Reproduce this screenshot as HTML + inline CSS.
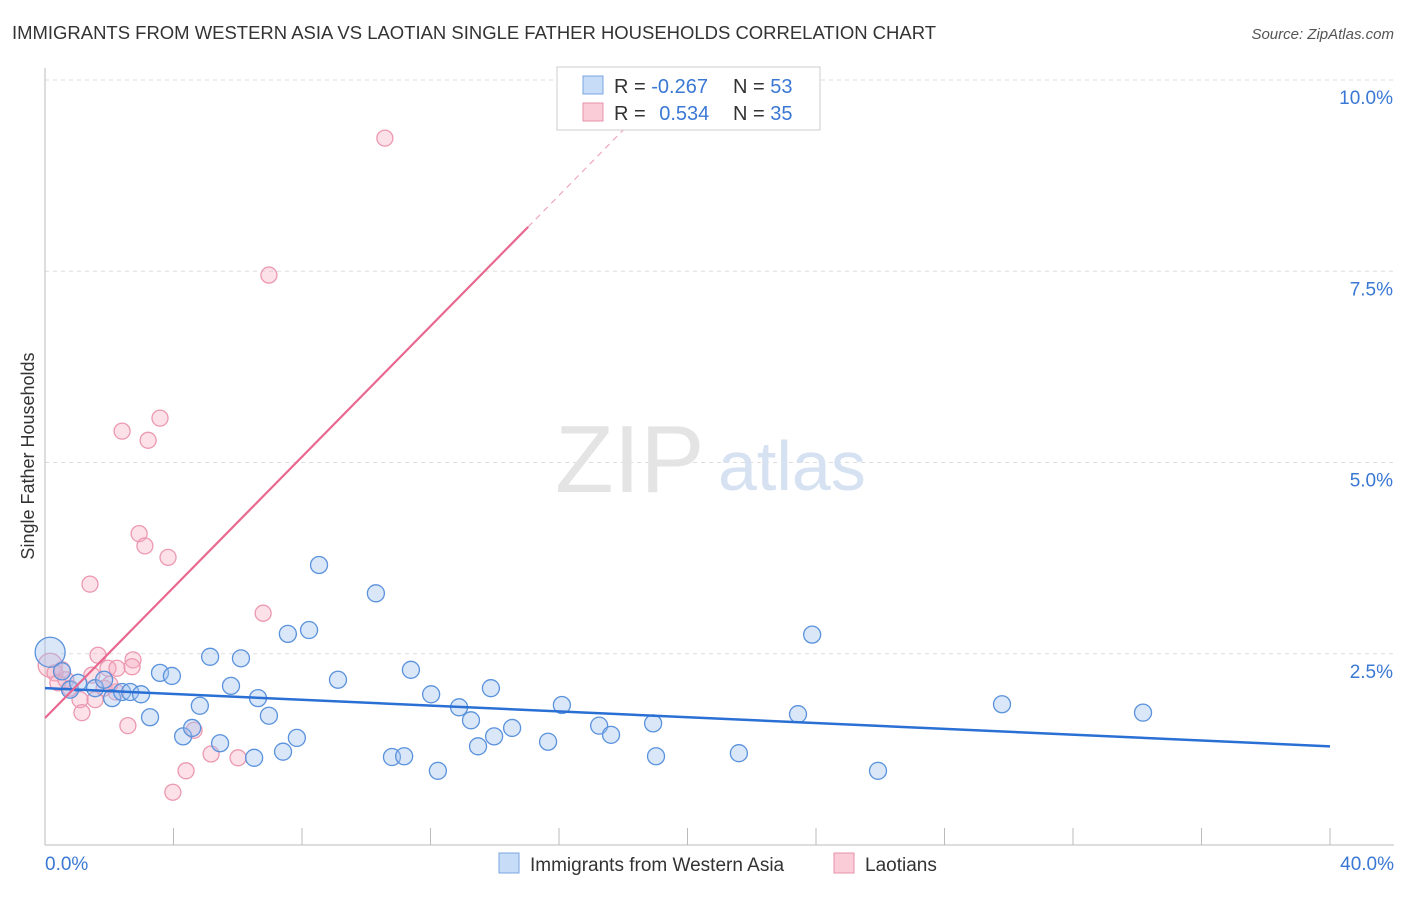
<!DOCTYPE html>
<html><head><meta charset="utf-8"><style>
body{margin:0;background:#fff;font-family:"Liberation Sans",sans-serif}
svg text{font-family:"Liberation Sans",sans-serif}
</style></head><body>
<svg width="1406" height="892" xmlns="http://www.w3.org/2000/svg">
<text x="12" y="39" font-size="18" fill="#333" textLength="924" lengthAdjust="spacingAndGlyphs">IMMIGRANTS FROM WESTERN ASIA VS LAOTIAN SINGLE FATHER HOUSEHOLDS CORRELATION CHART</text>
<text x="1394" y="39" font-size="15" fill="#555" font-style="italic" text-anchor="end">Source: ZipAtlas.com</text>
<g id="grid"></g>
<g id="axes"></g>
<text x="555" y="492" font-size="96" fill="#e4e4e4" font-family="Liberation Serif">ZIP</text>
<text x="718" y="490" font-size="70" fill="#d6e2f2">atlas</text>
<text transform="translate(34,456) rotate(-90)" font-size="18" fill="#333" text-anchor="middle">Single Father Households</text>
<g id="pts"></g>
<g id="trend"></g>
<g>
<rect x="557" y="67" width="263" height="63" fill="#fff" stroke="#ccc"/>
<rect x="583" y="76" width="20" height="18" fill="#c6dcf7" stroke="#7aa6e0"/>
<rect x="583" y="103" width="20" height="18" fill="#f9ccd8" stroke="#e890aa"/>
<text x="614" y="93" font-size="20" fill="#333">R = <tspan fill="#3a78d4">-0.267</tspan></text>
<text x="733" y="93" font-size="20" fill="#333">N = <tspan fill="#3a78d4">53</tspan></text>
<text x="614" y="120" font-size="20" fill="#333">R = <tspan fill="#3a78d4" dx="8">0.534</tspan></text>
<text x="733" y="120" font-size="20" fill="#333">N = <tspan fill="#3a78d4">35</tspan></text>
</g>
<g>
<rect x="499" y="853" width="20" height="20" fill="#c6dcf7" stroke="#7aa6e0"/>
<text x="530" y="871" font-size="19" fill="#333">Immigrants from Western Asia</text>
<rect x="834" y="853" width="20" height="20" fill="#f9ccd8" stroke="#e890aa"/>
<text x="865" y="871" font-size="19" fill="#333">Laotians</text>
</g>
<text x="45" y="870" font-size="19" fill="#3a78d4">0.0%</text>
<text x="1394" y="870" font-size="19" fill="#3a78d4" text-anchor="end">40.0%</text>
</svg>
<script>
const yTicks=[2.5,5.0,7.5,10.0];
const yTickLabels=["2.5%","5.0%","7.5%","10.0%"];
const blueX=[0.16,0.53,0.78,1.03,1.56,1.84,2.09,2.40,2.65,2.99,3.27,3.58,3.95,4.30,4.58,4.82,5.14,5.45,5.79,6.10,6.51,6.63,6.97,7.41,7.56,7.84,8.22,8.53,9.12,10.30,10.80,11.18,11.39,12.02,12.23,12.89,13.26,13.48,13.88,13.98,14.54,15.66,16.09,17.25,17.62,18.93,19.02,21.60,23.44,23.88,25.93,29.79,34.18];
const blueY=[2.52,2.27,2.03,2.12,2.05,2.16,1.92,2.00,2.00,1.97,1.67,2.25,2.21,1.42,1.53,1.82,2.46,1.33,2.08,2.44,1.14,1.92,1.69,1.22,2.76,1.40,2.81,3.66,2.16,3.29,1.15,1.16,2.29,1.97,0.97,1.80,1.63,1.29,2.05,1.42,1.53,1.35,1.83,1.56,1.44,1.59,1.16,1.20,1.71,2.75,0.97,1.84,1.73];
const pinkX=[0.16,0.31,0.53,0.78,1.09,1.15,1.40,1.56,1.65,1.84,1.96,2.21,2.24,2.40,2.58,2.74,2.93,3.11,3.21,3.58,3.83,3.98,4.39,4.64,5.17,6.01,6.79,6.97,10.58,0.40,1.46,0.65,2.02,2.71];
const pinkY=[2.35,2.25,2.29,2.05,1.90,1.73,3.41,1.90,2.48,2.05,2.31,2.00,2.31,5.41,1.56,2.42,4.07,3.91,5.29,5.58,3.76,0.69,0.97,1.50,1.19,1.14,3.03,7.45,9.24,2.12,2.22,2.16,2.10,2.33];
const blueTrend=[2.05,1.29];
const pinkTrend=[1.66,8.08,9.39];
const pinkTrendX=[0,15.04,18.1];
const NS="http://www.w3.org/2000/svg";
const X=v=>45+v/40*1285, Y=v=>845-v*76.5;
function mk(t,a,p){const e=document.createElementNS(NS,t);for(const k in a)e.setAttribute(k,a[k]);p.appendChild(e);return e;}
const grid=document.getElementById('grid'),axes=document.getElementById('axes');
yTicks.forEach((t,i)=>{
 const l=mk('line',{x1:45,x2:1394,y1:Y(t),y2:Y(t),stroke:'#ddd','stroke-dasharray':'4,4'},grid);
 
 
 const tx=mk('text',{x:1393,y:Y(t)+24,'font-size':19,fill:'#3a78d4','text-anchor':'end'},axes);
 tx.textContent=yTickLabels[i];
 
 
});
mk('line',{x1:45,x2:45,y1:68,y2:845,stroke:'#bbb'},axes);
mk('line',{x1:45,x2:1394,y1:845,y2:845,stroke:'#bbb'},axes);
for(let v=4;v<=40;v+=4){const t=mk('line',{x1:X(v),x2:X(v),y1:828,y2:845,stroke:'#bbb'},axes);
 
 }
const pts=document.getElementById('pts');
pinkX.forEach((x,i)=>{const c=mk('circle',{cx:X(x),cy:Y(pinkY[i]),r:i==0?12:8,fill:'rgba(246,170,192,0.35)',stroke:'#ec98b0','stroke-width':1.3},pts);
 
 });
blueX.forEach((x,i)=>{const c=mk('circle',{cx:X(x),cy:Y(blueY[i]),r:i==0?15:8.5,fill:'rgba(160,196,240,0.4)',stroke:'#5a92dc','stroke-width':1.3},pts);
 
 });
const tr=document.getElementById('trend');
const b=mk('line',{x1:X(0),y1:Y(blueTrend[0]),x2:X(40),y2:Y(blueTrend[1]),stroke:'#2a6fd4','stroke-width':2.5},tr);


const p=mk('line',{x1:X(pinkTrendX[0]),y1:Y(pinkTrend[0]),x2:X(pinkTrendX[1]),y2:Y(pinkTrend[1]),stroke:'#e8688f','stroke-width':2.2},tr);


const pd=mk('line',{x1:X(pinkTrendX[1]),y1:Y(pinkTrend[1]),x2:X(pinkTrendX[2]),y2:Y(pinkTrend[2]),stroke:'#f0a8bc','stroke-width':1.2,'stroke-dasharray':'6,5'},tr);


</script>
</body></html>
